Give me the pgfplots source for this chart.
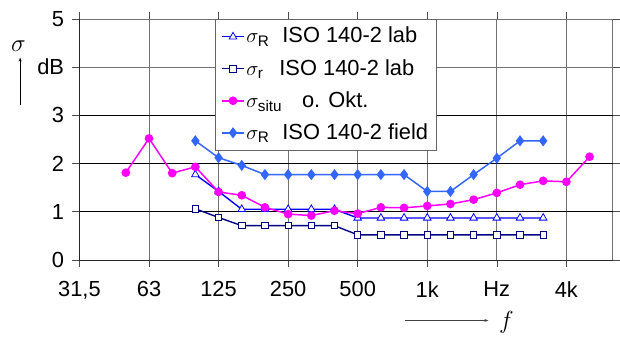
\documentclass[border=0pt]{standalone}
\usepackage{pgfplots}
\pgfplotsset{compat=1.18}
\usetikzlibrary{arrows.meta}
\usepackage{amsmath}
\usepackage{fontspec}
\setmainfont{Liberation Sans}
\definecolor{labR}{RGB}{0,0,255}
\definecolor{labr}{RGB}{0,0,128}
\definecolor{situ}{RGB}{255,0,255}
\definecolor{fieldR}{RGB}{51,102,255}
\begin{document}
\fontsize{22}{26}\selectfont
\begin{tikzpicture}
\path (0,0) rectangle (620pt,332pt);
\begin{axis}[
  at={(80pt,70.3pt)}, anchor=south west,
  scale only axis, width=537pt, height=242.7pt,
  xmin=0, xmax=23, ymin=0, ymax=5,
  xtick={0,3,6,9,12,15,18,21},
  xticklabels={{31,5},63,125,250,500,1k,Hz,4k},
  ytick={0,1,2,3,4,5},
  yticklabels={0,1,2,3,dB,5},
  tick align=outside, major tick length=7pt,
  tick style={black!70, line width=0.6pt},
  xmajorgrids, ymajorgrids,
  major grid style={black!55, line width=0.7pt},
  axis line style={black!55, line width=0.7pt},
  ticklabel style={font=\fontsize{22}{26}\selectfont},
  yticklabel style={xshift=-1pt},
  xticklabel style={yshift=-7pt},
  legend style={at={(0.2546,1)}, anchor=north west, draw=black!60, fill=white,
    font=\fontsize{22}{26}\selectfont, row sep=9pt, inner sep=6pt, line width=0.7pt},
  legend cell align=left,
  legend image code/.code={\draw[mark repeat=2,mark phase=2] plot coordinates {(0cm,0cm)(0.38cm,0cm)(0.76cm,0cm)};},
  clip=false,
]
\draw[black, line width=0.7pt] (axis cs:0,1) -- (axis cs:23,1);
\draw[black, line width=0.7pt] (axis cs:0,2) -- (axis cs:23,2);
\draw[black, line width=0.7pt] (axis cs:0,3) -- (axis cs:23,3);
\draw[black!85, line width=0.8pt] (axis cs:0,5) -- (axis cs:0,0) -- (axis cs:23,0);
\addplot[labR, line width=1.4pt, mark=triangle*, mark options={fill=white, scale=2.2, line width=0.8pt}] coordinates {
(5,1.77)(6,1.42)(7,1.05)(8,1.05)(9,1.05)(10,1.05)(11,1.05)(12,0.87)(13,0.87)(14,0.87)(15,0.87)(16,0.87)(17,0.87)(18,0.87)(19,0.87)(20,0.87)};
\addlegendentry{$\sigma_{\text{R}}$\hspace{13pt}ISO 140-2 lab}
\addplot[labr, line width=1.4pt, mark=square*, mark options={fill=white, scale=1.6, line width=0.8pt}] coordinates {
(5,1.06)(6,0.88)(7,0.71)(8,0.71)(9,0.71)(10,0.71)(11,0.71)(12,0.52)(13,0.52)(14,0.52)(15,0.52)(16,0.52)(17,0.52)(18,0.52)(19,0.52)(20,0.52)};
\addlegendentry{$\sigma_{\text{r}}$\hspace{16pt}ISO 140-2 lab}
\addplot[situ, line width=1.5pt, mark=*, mark options={scale=1.8}] coordinates {
(2,1.81)(3,2.52)(4,1.80)(5,1.93)(6,1.41)(7,1.34)(8,1.09)(9,0.95)(10,0.92)(11,1.02)(12,0.96)(13,1.09)(14,1.08)(15,1.12)(16,1.16)(17,1.25)(18,1.39)(19,1.56)(20,1.64)(21,1.62)(22,2.14)};
\addlegendentry{$\sigma_{\text{situ}}$\hspace{20pt}o. Okt.}
\addplot[fieldR, line width=1.5pt, mark=diamond*, mark options={scale=2.2}] coordinates {
(5,2.47)(6,2.12)(7,1.96)(8,1.77)(9,1.77)(10,1.77)(11,1.77)(12,1.77)(13,1.77)(14,1.77)(15,1.42)(16,1.42)(17,1.77)(18,2.11)(19,2.47)(20,2.47)};
\addlegendentry{$\sigma_{\text{R}}$\hspace{13pt}ISO 140-2 field}
\end{axis}
\node at (18.5pt,286pt) {\fontsize{25}{28}\selectfont$\sigma$};
\draw[-{Stealth[length=4pt]}, line width=0.6pt] (20.3pt,226pt) -- (20.3pt,274pt);
\draw[-{Stealth[length=4pt]}, line width=0.6pt, black!75] (408pt,9.3pt) -- (491.7pt,9.3pt);
\node at (510pt,7pt) {\fontsize{25}{28}\selectfont$f$};
\end{tikzpicture}
\end{document}
